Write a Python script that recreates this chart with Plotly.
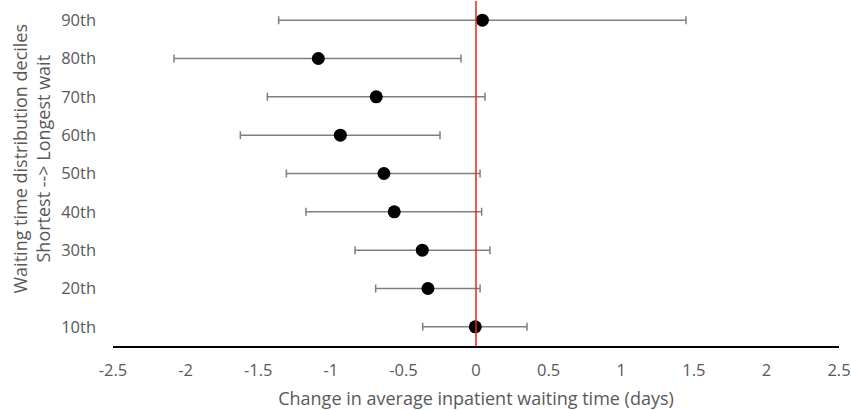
import plotly.graph_objects as go

deciles = ["10th", "20th", "30th", "40th", "50th", "60th", "70th", "80th", "90th"]
estimate = [-0.005, -0.331, -0.370, -0.563, -0.634, -0.934, -0.687, -1.086, 0.044]
ci_low = [-0.367, -0.691, -0.833, -1.171, -1.306, -1.623, -1.437, -2.080, -1.359]
ci_high = [0.351, 0.028, 0.096, 0.039, 0.028, -0.248, 0.062, -0.103, 1.446]
x_ticks = [-2.5, -2, -1.5, -1, -0.5, 0, 0.5, 1, 1.5, 2, 2.5]

err_plus = [h - e for h, e in zip(ci_high, estimate)]
err_minus = [e - l for e, l in zip(estimate, ci_low)]

font_family = "Open Sans, sans-serif"
grey_text = "#595959"

fig = go.Figure()
fig.add_trace(go.Scatter(
    x=estimate, y=deciles, mode="markers",
    marker=dict(color="black", size=13),
    error_x=dict(type="data", symmetric=False, array=err_plus, arrayminus=err_minus,
                 color="#7f7f7f", thickness=1.5, width=4),
    showlegend=False, hoverinfo="x+y",
))

fig.add_shape(type="line", xref="x", yref="paper", x0=0, x1=0, y0=0, y1=1,
              line=dict(color="#e8231f", width=1.5))

fig.update_layout(
    width=851, height=410,
    margin=dict(l=113, r=12, t=1, b=64),
    paper_bgcolor="white", plot_bgcolor="white",
    font=dict(family=font_family, color=grey_text, size=16.5),
    xaxis=dict(range=[-2.5, 2.5], tickvals=x_ticks,
               ticktext=[f"{v:g}" for v in x_ticks],
               showgrid=False, zeroline=False, showline=True,
               linecolor="black", linewidth=1.5, ticks="", ticklabelstandoff=8,
               tickfont=dict(size=16.5, color=grey_text),
               title=dict(text="Change in average inpatient waiting time (days)",
                          font=dict(size=18, color=grey_text), standoff=13)),
    yaxis=dict(type="category", categoryorder="array", categoryarray=deciles,
               range=[-0.5, 8.5], showgrid=False, zeroline=False, showline=False,
               ticks="", ticklabelstandoff=16,
               tickfont=dict(size=16.5, color=grey_text)),
    annotations=[dict(
        text="Waiting time distribution deciles<br>Shortest --> Longest wait",
        xref="paper", yref="paper", x=0, y=0.5, xanchor="center", yanchor="middle",
        xshift=-82, yshift=15, textangle=-90, showarrow=False,
        font=dict(size=18, color=grey_text, family=font_family),
    )],
)

fig.write_html("out.html", config={"displayModeBar": False},
               post_script="document.body.style.margin='0';")
